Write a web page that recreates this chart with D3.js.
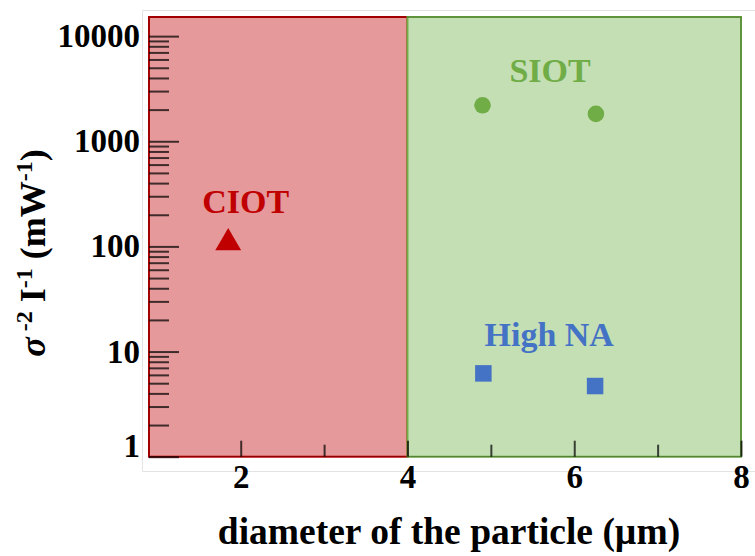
<!DOCTYPE html>
<meta charset="utf-8">
<style>
  body { margin: 0; background: #fff; }
  text { font-family: "Liberation Serif", "Times New Roman", serif; font-weight: bold; }
</style>
<script src="https://cdn.jsdelivr.net/npm/d3@7"></script>
<div id="chart"></div>
<script>

// data
var ciotX = [1.85], ciotY = [108];
var siotX = [4.90, 6.26], siotY = [2200, 1820];
var highNaX = [4.91, 6.25], highNaY = [6.2, 4.7];

// the two shaded ranges of diameter
var regionNames = ["CIOT", "SIOT"];
var regionStart = [0.9, 4];
var regionEnd = [4, 8];

var xMajor = [2, 4, 6, 8], xMinor = [3, 5, 7];
var yMajor = [1, 10, 100, 1000, 10000];
var yMinor = [];
[1, 10, 100, 1000].forEach(function(d) {
  for (var k = 2; k <= 9; k++) yMinor.push(d * k);
});

var W = 755, H = 556;
var margin = {top: 17, right: 14, bottom: 99.3, left: 149},
    width = W - margin.left - margin.right,
    height = H - margin.top - margin.bottom;

var svg = d3.select("#chart").append("svg")
    .attr("width", W)
    .attr("height", H);

// faint outer frame
svg.append("path")
  .attr("d", "M755,10.5H142.5V471.5H755")
  .attr("fill", "none")
  .attr("stroke", "#e3e3e3")
  .attr("stroke-width", 1);

var g = svg.append("g")
  .attr("transform", "translate(" + margin.left + "," + margin.top + ")");

var x = d3.scaleLinear().domain([0.9, 8]).range([0, width]);
var y = d3.scaleLog().domain([1, 15200]).range([height, 0]);

// background regions
var fills = ["#e5999a", "#c5dfb5"];
var strokes = ["#c00000", "#70ad47"];
regionNames.forEach(function(n, i) {
  g.append("rect")
    .attr("x", x(regionStart[i]))
    .attr("y", 0)
    .attr("width", x(regionEnd[i]) - x(regionStart[i]))
    .attr("height", height)
    .attr("fill", fills[i])
    .attr("stroke", strokes[i])
    .attr("stroke-width", 2);
});

// thin dark line on the frame
g.append("rect")
  .attr("x", 0).attr("y", 0)
  .attr("width", width).attr("height", height)
  .attr("fill", "none")
  .attr("stroke", "#000")
  .attr("stroke-opacity", 0.3)
  .attr("stroke-width", 1);

// y axis, ticks pointing inward
var yAx = g.append("g")
  .call(d3.axisLeft(y).tickValues(yMajor).tickFormat(d3.format("d"))
    .tickSizeInner(-30).tickSizeOuter(0).tickPadding(9));
g.append("g")
  .call(d3.axisLeft(y).tickValues(yMinor).tickFormat("")
    .tickSizeInner(-20).tickSizeOuter(0));

// x axis, ticks pointing up
var xAx = g.append("g")
  .attr("transform", "translate(0," + height + ")")
  .call(d3.axisBottom(x).tickValues(xMajor).tickFormat(d3.format("d"))
    .tickSizeInner(-16).tickSizeOuter(0).tickPadding(8));
g.append("g")
  .attr("transform", "translate(0," + height + ")")
  .call(d3.axisBottom(x).tickValues(xMinor).tickFormat("")
    .tickSizeInner(-12).tickSizeOuter(0));

g.selectAll(".domain").remove();
g.selectAll(".tick line")
  .attr("stroke", "#000")
  .attr("stroke-opacity", 0.72)
  .attr("stroke-width", 2);
g.selectAll(".tick text")
  .style("font-family", "'Liberation Serif', 'Times New Roman', serif")
  .style("font-weight", "bold")
  .style("font-size", "33px")
  .attr("fill", "#000");

// the "1" label sits a bit above its tick
yAx.selectAll(".tick").filter(function(d) { return d === 1; })
  .select("text").attr("y", -11);

// marks
var tri = d3.symbol().type(d3.symbolTriangle).size(290);
g.selectAll(".ciot").data(ciotX).enter().append("path")
  .attr("class", "ciot")
  .attr("d", tri)
  .attr("transform", function(d, i) { return "translate(" + x(d) + "," + y(ciotY[i]) + ")"; })
  .attr("fill", "#c00000");

g.selectAll(".siot").data(siotX).enter().append("circle")
  .attr("class", "siot")
  .attr("cx", function(d) { return x(d); })
  .attr("cy", function(d, i) { return y(siotY[i]); })
  .attr("r", 8.3)
  .attr("fill", "#70ad47");

var sq = 16.5;
g.selectAll(".hna").data(highNaX).enter().append("rect")
  .attr("class", "hna")
  .attr("x", function(d) { return x(d) - sq / 2; })
  .attr("y", function(d, i) { return y(highNaY[i]) - sq / 2; })
  .attr("width", sq).attr("height", sq)
  .attr("fill", "#4472c4");

// group labels
var labels = [
  {t: "CIOT", x: 2.06, y: 209, c: "#c00000"},
  {t: "SIOT", x: 5.71, y: 3700, c: "#70ad47"},
  {t: "High NA", x: 5.70, y: 11.2, c: "#4472c4"}
];
g.selectAll(".lab").data(labels).enter().append("text")
  .attr("class", "lab")
  .attr("x", function(d) { return x(d.x); })
  .attr("y", function(d) { return y(d.y); })
  .attr("text-anchor", "middle")
  .attr("fill", function(d) { return d.c; })
  .style("font-size", "34px")
  .text(function(d) { return d.t; });

// axis titles
svg.append("text")
  .attr("x", 449).attr("y", 544)
  .attr("text-anchor", "middle")
  .style("font-size", "37.5px")
  .text("diameter of the particle (\u00b5m)");

var yt = svg.append("text")
  .attr("transform", "translate(45,253) rotate(-90)")
  .attr("text-anchor", "middle")
  .style("font-size", "36px");
yt.append("tspan").style("font-style", "italic").text("\u03c3");
yt.append("tspan").attr("dy", -13).style("font-size", "24px").text(" -2");
yt.append("tspan").attr("dy", 13).text(" I");
yt.append("tspan").attr("dy", -13).style("font-size", "24px").text("-1");
yt.append("tspan").attr("dy", 13).text(" (mW");
yt.append("tspan").attr("dy", -13).style("font-size", "24px").text("-1");
yt.append("tspan").attr("dy", 13).text(")");

</script>
